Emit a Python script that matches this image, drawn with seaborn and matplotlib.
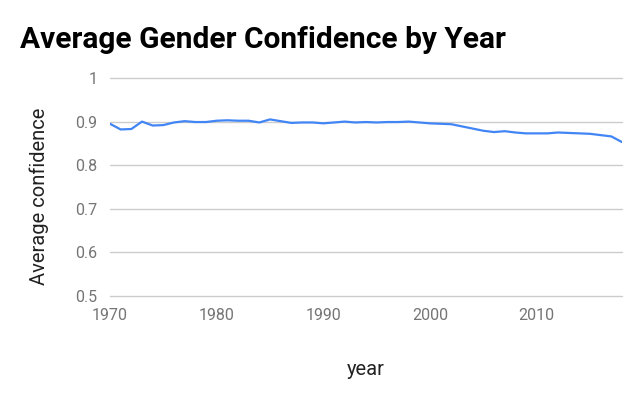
import matplotlib
matplotlib.use("Agg")
import matplotlib.pyplot as plt
import seaborn as sns
import pandas as pd

years = list(range(1970, 2019))
confidence = [0.895, 0.882, 0.883, 0.900, 0.891, 0.892, 0.898, 0.901, 0.899, 0.899,
              0.902, 0.903, 0.902, 0.902, 0.898, 0.905, 0.901, 0.897, 0.898, 0.898,
              0.896, 0.898, 0.900, 0.898, 0.899, 0.898, 0.899, 0.899, 0.900, 0.898,
              0.896, 0.895, 0.894, 0.889, 0.884, 0.879, 0.876, 0.878, 0.875, 0.873,
              0.873, 0.873, 0.875, 0.874, 0.873, 0.872, 0.869, 0.866, 0.853]
xticks = [1970, 1980, 1990, 2000, 2010]
yticks = [0.5, 0.6, 0.7, 0.8, 0.9, 1.0]
ytick_labels = ["0.5", "0.6", "0.7", "0.8", "0.9", "1"]

df = pd.DataFrame({"year": years, "confidence": confidence})

sns.set_theme(style="white")
plt.rcParams["font.family"] = ["Roboto", "DejaVu Sans"]

fig = plt.figure(figsize=(6.43, 3.97), dpi=100)
ax = fig.add_axes([110 / 643, 1 - 296 / 397, 512 / 643, 218 / 397])

sns.lineplot(data=df, x="year", y="confidence", ax=ax, color="#4285f4", linewidth=1.6)

ax.set_xlim(1970, 2018)
ax.set_ylim(0.5, 1.0)
ax.set_xticks(xticks)
ax.set_xticklabels([str(t) for t in xticks])
ax.set_yticks(yticks)
ax.set_yticklabels(ytick_labels)
ax.grid(axis="y", color="#cccccc", linewidth=1)
ax.grid(axis="x", visible=False)
ax.set_axisbelow(True)
for gl in ax.get_ygridlines():
    gl.set_clip_on(False)
for s in ax.spines.values():
    s.set_visible(False)
ax.tick_params(axis="both", length=0, labelsize=11.5, colors="#757575")
ax.tick_params(axis="y", pad=9)
ax.tick_params(axis="x", pad=9)

ax.set_xlabel("year", fontsize=14.5, color="#222222", labelpad=26)
ax.set_ylabel("Average confidence", fontsize=14.5, color="#222222")
ax.yaxis.set_label_coords(-0.119, 0.456)

fig.text(20 / 643, 1 - 40 / 397, "Average Gender Confidence by Year",
         fontsize=21.5, fontweight="bold", color="#000000", va="center", ha="left")

fig.savefig("out.png", dpi=100)
